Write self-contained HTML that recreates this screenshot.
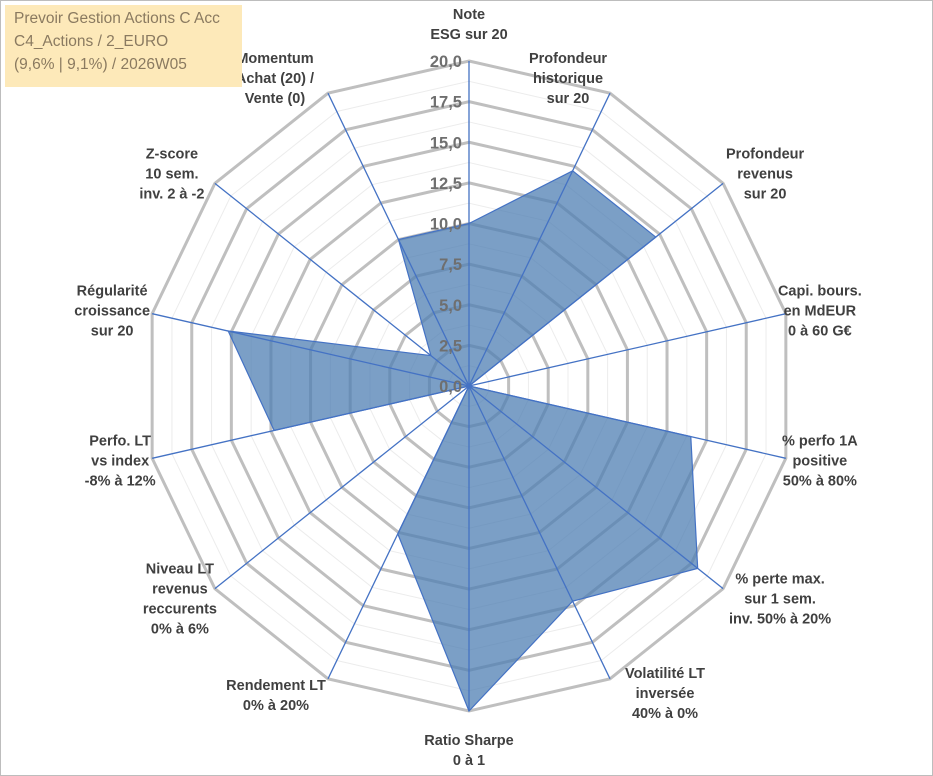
<!DOCTYPE html>
<html><head><meta charset="utf-8">
<style>
body{margin:0;background:#fff;}
#wrap{position:relative;width:933px;height:776px;overflow:hidden;font-family:"Liberation Sans",sans-serif;}
#frame{position:absolute;left:0;top:0;width:931px;height:774px;border:1px solid #bdbdbd;}
#title{position:absolute;left:5px;top:5px;width:237px;height:82px;background:#fde9b9;color:#8a7a60;font-size:15.5px;line-height:23px;padding:2px 0 0 9px;box-sizing:border-box;}
</style></head><body>
<div id="wrap">
<div id="frame"></div>
<svg id="chart" width="933" height="776" style="position:absolute;left:0;top:0"></svg>
<div id="title">Prevoir Gestion Actions C Acc<br>C4_Actions / 2_EURO<br>(9,6% | 9,1%) / 2026W05</div>
</div>
<script>
const categories=[["Note","ESG sur 20"],["Profondeur","historique","sur 20"],["Profondeur","revenus","sur 20"],["Capi. bours.","en MdEUR","0 à 60 G€"],["% perfo 1A","positive","50% à 80%"],["% perte max.","sur 1 sem.","inv. 50% à 20%"],["Volatilité LT","inversée","40% à 0%"],["Ratio Sharpe","0 à 1"],["Rendement LT","0% à 20%"],["Niveau LT","revenus","reccurents","0% à 6%"],["Perfo. LT","vs index","-8% à 12%"],["Régularité","croissance","sur 20"],["Z-score","10 sem.","inv. 2 à -2"],["Momentum","Achat (20) /","Vente (0)"]];
const values=[10,14.7,14.7,0,14,18,14.7,20,10.1,0,12.3,15.2,3,10];
const tickLabels=["0,0","2,5","5,0","7,5","10,0","12,5","15,0","17,5","20,0"];
const maxV=20;
const cx=469,cy=386,R=325;
// label offsets from outer vertex (layout)
const labelOff=[[0,-37],[-42,-15],[42,-10],[34,-3],[34,2],[57,10],[55,14],[0,39],[-52,16],[-35,10],[-32,2],[-40,-3],[-43,-10],[-53,-15]];
const svg=document.getElementById('chart');
const NS='http://www.w3.org/2000/svg';
const n=categories.length;
function ang(i){return i*2*Math.PI/n;}
function pt(i,v){const r=v/maxV*R;return [cx+r*Math.sin(ang(i)),cy-r*Math.cos(ang(i))];}
function mk(t,a){const e=document.createElementNS(NS,t);for(const k in a)e.setAttribute(k,a[k]);svg.appendChild(e);return e;}
for(let k=1;k<=16;k++){
  const v=k*1.25;const p=[];for(let i=0;i<n;i++)p.push(pt(i,v).join(','));
  const major=(k%2===0);
  const e=mk('polygon',{points:p.join(' '),fill:'none',stroke:major?'#bfbfbf':'#ececec','stroke-width':major?3:1});
  
  
}
{const p=values.map((v,i)=>pt(i,v).join(','));
 const e=mk('polygon',{points:p.join(' '),fill:'#4f7fb3','fill-opacity':0.75,stroke:'#4472c4','stroke-width':1.2});
 
 }
for(let i=0;i<n;i++){const [x,y]=pt(i,maxV);
  const e=mk('line',{x1:cx,y1:cy,x2:x,y2:y,stroke:'#4472c4','stroke-width':1.3});
  
  }
tickLabels.forEach((t,k)=>{const v=k*2.5;const y=cy-v/maxV*R;
  const e=mk('text',{x:cx-7,y:y+6,'text-anchor':'end','font-size':16.5,'font-weight':'bold',fill:'#6f6f6f','font-family':'Liberation Sans, sans-serif'});
  e.textContent=t;
  
  });
categories.forEach((lines,i)=>{
  const [vx,vy]=pt(i,maxV);
  const x=vx+labelOff[i][0], yc=vy+labelOff[i][1];
  const lh=20;const h=(lines.length-1)*lh;
  const y0=yc-h/2+5;
  const e=mk('text',{'text-anchor':'middle','font-size':14.5,'font-weight':'bold',fill:'#404040','font-family':'Liberation Sans, sans-serif'});
  
  
  lines.forEach((l,j)=>{const ts=document.createElementNS(NS,'tspan');ts.setAttribute('x',x);ts.setAttribute('y',y0+j*lh);ts.textContent=l;e.appendChild(ts);});
});
</script>
</body></html>
